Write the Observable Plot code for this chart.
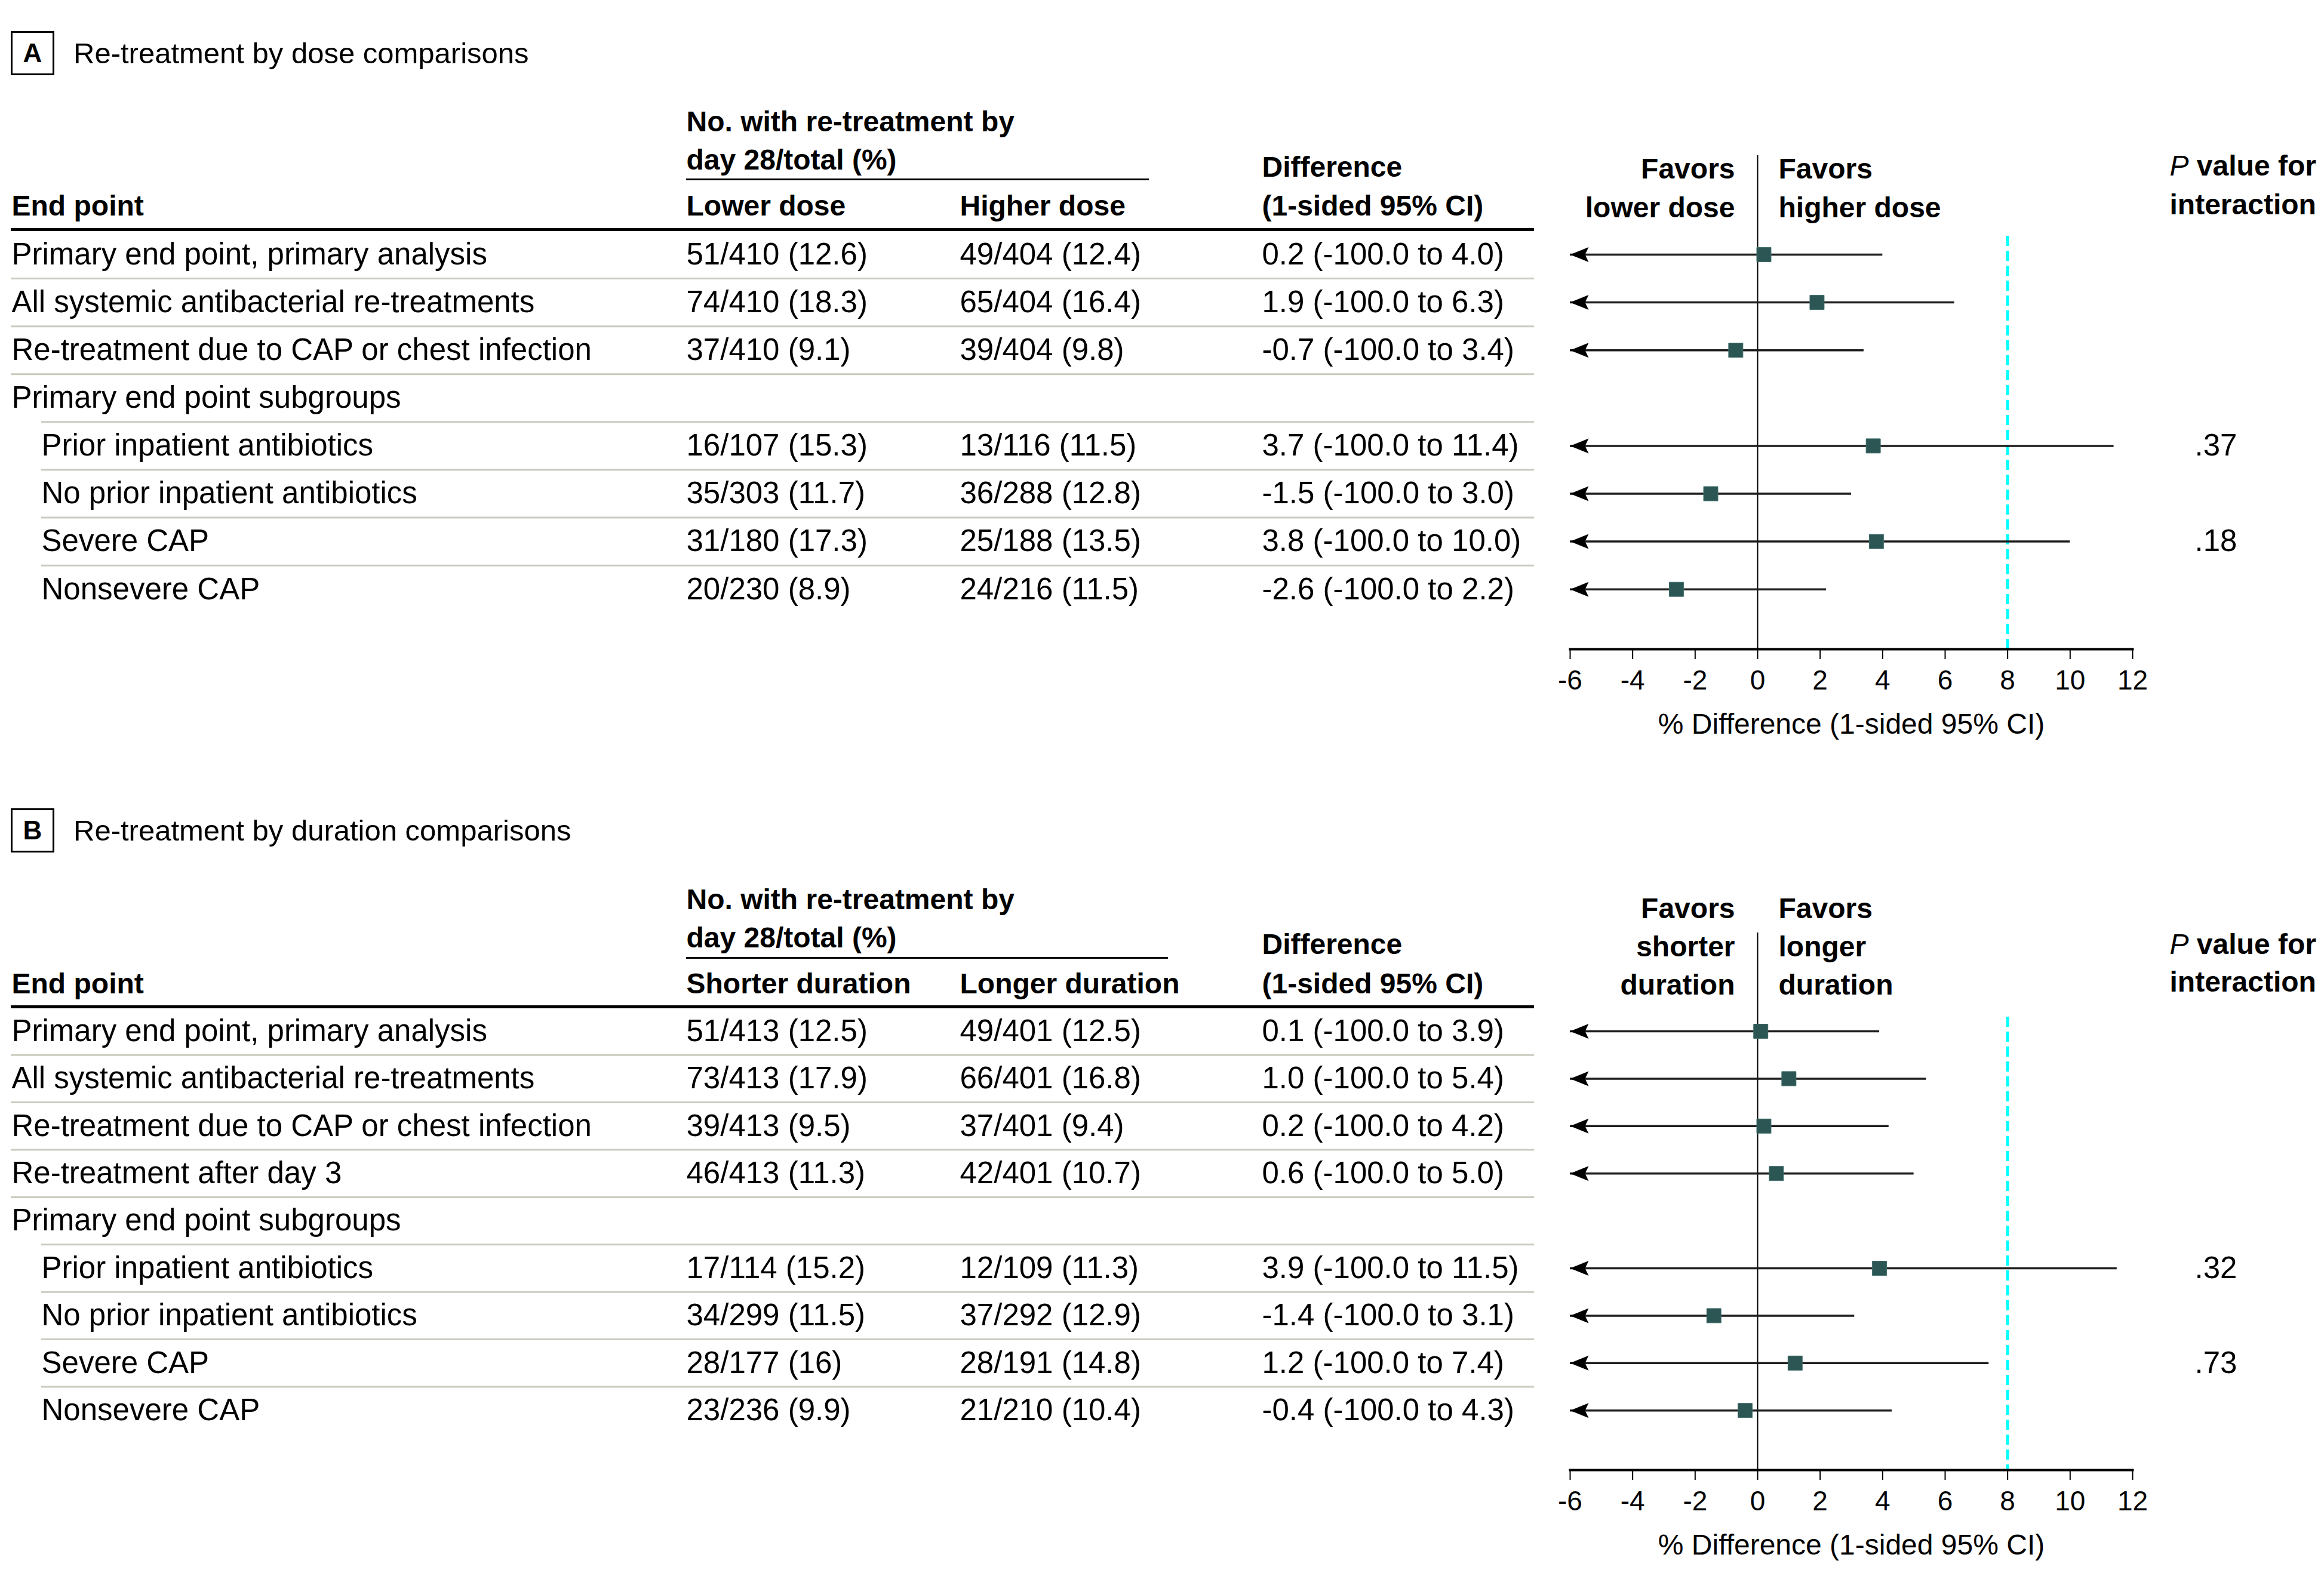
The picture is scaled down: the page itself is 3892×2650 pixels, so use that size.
<!DOCTYPE html>
<html><head><meta charset="utf-8">
<script src="https://cdn.jsdelivr.net/npm/d3@7"></script>
<script src="https://cdn.jsdelivr.net/npm/@observablehq/plot@0.6"></script>
<style>
html,body{margin:0;padding:0;background:#fff;overflow:hidden}
#root{position:relative;width:3892px;height:2650px;font-family:"Liberation Sans",Arial,sans-serif;color:#000}
.layer{position:absolute;left:0}
.box{position:absolute;left:18px;width:73px;height:74px;border:3px solid #000;box-sizing:border-box;font-weight:bold;font-size:44px;display:flex;align-items:center;justify-content:center}
.ttl{position:absolute;left:123px;font-size:49px;line-height:60px;white-space:nowrap}
</style></head><body><div id="root"></div>
<script>
// ---------------- DATA ----------------
// Panel A: dose comparisons
const titleA = "Re-treatment by dose comparisons";
const endpointsA = ["Primary end point, primary analysis","All systemic antibacterial re-treatments","Re-treatment due to CAP or chest infection","Primary end point subgroups","Prior inpatient antibiotics","No prior inpatient antibiotics","Severe CAP","Nonsevere CAP"];
const subgroupA = [false,false,false,false,true,true,true,true];
const lowerDoseA = ["51/410 (12.6)","74/410 (18.3)","37/410 (9.1)",null,"16/107 (15.3)","35/303 (11.7)","31/180 (17.3)","20/230 (8.9)"];
const higherDoseA = ["49/404 (12.4)","65/404 (16.4)","39/404 (9.8)",null,"13/116 (11.5)","36/288 (12.8)","25/188 (13.5)","24/216 (11.5)"];
const diffA = [0.2,1.9,-0.7,null,3.7,-1.5,3.8,-2.6];
const ciLowA = [-100,-100,-100,null,-100,-100,-100,-100];
const ciHighA = [4.0,6.3,3.4,null,11.4,3.0,10.0,2.2];
const pInterA = [null,null,null,null,".37",null,".18",null];
const groupHeadA = ["Lower dose","Higher dose"];
const favorsA = ["Favors\nlower dose","Favors\nhigher dose"];

// Panel B: duration comparisons
const titleB = "Re-treatment by duration comparisons";
const endpointsB = ["Primary end point, primary analysis","All systemic antibacterial re-treatments","Re-treatment due to CAP or chest infection","Re-treatment after day 3","Primary end point subgroups","Prior inpatient antibiotics","No prior inpatient antibiotics","Severe CAP","Nonsevere CAP"];
const subgroupB = [false,false,false,false,false,true,true,true,true];
const shorterB = ["51/413 (12.5)","73/413 (17.9)","39/413 (9.5)","46/413 (11.3)",null,"17/114 (15.2)","34/299 (11.5)","28/177 (16)","23/236 (9.9)"];
const longerB = ["49/401 (12.5)","66/401 (16.8)","37/401 (9.4)","42/401 (10.7)",null,"12/109 (11.3)","37/292 (12.9)","28/191 (14.8)","21/210 (10.4)"];
const diffB = [0.1,1.0,0.2,0.6,null,3.9,-1.4,1.2,-0.4];
const ciLowB = [-100,-100,-100,-100,null,-100,-100,-100,-100];
const ciHighB = [3.9,5.4,4.2,5.0,null,11.5,3.1,7.4,4.3];
const pInterB = [null,null,null,null,null,".32",null,".73",null];
const groupHeadB = ["Shorter duration","Longer duration"];
const favorsB = ["Favors\nshorter\nduration","Favors\nlonger\nduration"];

// shared labels
const xTicks = [-6,-4,-2,0,2,4,6,8,10,12];
const xDomain = [-6, 12];
const marginLine = 8; // noninferiority margin
const axisTitle = "% Difference (1-sided 95% CI)";

// ---------------- LAYOUT ----------------
const W = 3892;
const FONT = '"Liberation Sans", Arial, sans-serif';
const FS = 51;
const FSB = 48;
const COL = {label: 19, indent: 69, left: 1149, right: 1607, diff: 2113, rule0: 18, rule1: 2569, phdr: 3633, pval: 3675};
const FX0 = 2629, FX1 = 3571;
const SEP = "#c9ccbf";
const MARK = "#2b5654";

const arrowHead = {
  draw(ctx) {
    ctx.moveTo(0, 0);
    ctx.lineTo(31, -12.5);
    ctx.lineTo(25, 0);
    ctx.lineTo(31, 12.5);
    ctx.closePath();
  }
};

function buildRows(labels, sub, left, right, diff, lo, hi, p) {
  return labels.map((label, i) => ({i, label, indent: sub[i], left: left[i], right: right[i], diff: diff[i], lo: lo[i], hi: hi[i], p: p[i],
    diffText: diff[i] == null ? null : `${diff[i].toFixed(1)} (${lo[i].toFixed(1)} to ${hi[i].toFixed(1)})`}));
}

function hdr(text, dx, dy, extra = {}) {
  return Plot.text([text], {text: d => d, frameAnchor: "top-left", dx, dy, textAnchor: "start", lineAnchor: "middle", fontSize: FSB, fontWeight: "bold", fill: "#000", ...extra});
}

function drawPanel(root, cfg) {
  const {top, H, rows, y0, step, ruleDy, ulDy, ulRight, heads, favors, L} = cfg;
  const n = rows.length;
  const yScale = {type: "point", domain: d3.range(n), range: [y0, y0 + (n - 1) * step], padding: 0, round: false, axis: null};
  const style = {fontFamily: FONT, fontSize: FS + "px", background: "transparent", color: "#000", overflow: "visible"};

  const table = Plot.plot({
    width: W, height: H, margin: 0,
    x: {type: "identity", axis: null},
    y: yScale,
    style,
    marks: [
      Plot.ruleY([0], {y: d => d, dy: ruleDy, x1: () => COL.rule0, x2: () => COL.rule1, stroke: "#000", strokeWidth: 5}),
      Plot.ruleY([0], {y: d => d, dy: ulDy, x1: () => COL.left, x2: () => ulRight, stroke: "#000", strokeWidth: 3}),
      Plot.ruleY(rows.slice(0, -1), {y: "i", dy: step / 2, x1: d => rows[d.i + 1].indent ? COL.indent : COL.rule0, x2: () => COL.rule1, stroke: SEP, strokeWidth: 3}),
      hdr("No. with re-treatment by", COL.left, L.no1),
      hdr("day 28/total (%)", COL.left, L.no2),
      hdr("End point", COL.label, L.col),
      hdr(heads[0], COL.left, L.col),
      hdr(heads[1], COL.right, L.col),
      hdr("Difference", COL.diff, L.d1),
      hdr("(1-sided 95% CI)", COL.diff, L.d2),
      hdr("P value for", COL.phdr, L.p1),
      hdr("interaction", COL.phdr, L.p2),
      Plot.text(rows, {x: d => d.indent ? COL.indent : COL.label, y: "i", text: "label", textAnchor: "start", fontSize: FS, fill: "#000"}),
      Plot.text(rows.filter(d => d.left), {x: () => COL.left, y: "i", text: "left", textAnchor: "start", fontSize: FS, fill: "#000"}),
      Plot.text(rows.filter(d => d.right), {x: () => COL.right, y: "i", text: "right", textAnchor: "start", fontSize: FS, fill: "#000"}),
      Plot.text(rows.filter(d => d.diffText), {x: () => COL.diff, y: "i", text: "diffText", textAnchor: "start", fontSize: FS, fill: "#000"}),
      Plot.text(rows.filter(d => d.p), {x: () => COL.pval, y: "i", text: "p", textAnchor: "start", fontSize: FS, fill: "#000"})
    ]
  });

  const est = rows.filter(d => d.diff != null);
  const forest = Plot.plot({
    width: W, height: H, marginTop: 0, marginBottom: H - L.axis, marginLeft: FX0, marginRight: W - FX1,
    x: {domain: xDomain, axis: null},
    y: yScale,
    style: {...style, fontSize: "46px"},
    marks: [
      Plot.ruleX([0], {insetTop: L.zero, stroke: "#000", strokeWidth: 2}),
      Plot.ruleX([marginLine], {insetTop: L.cyan, stroke: "#00ffff", strokeWidth: 5, strokeDasharray: "17,8"}),
      Plot.frame({anchor: "bottom", stroke: "#000", strokeWidth: 4}),
      Plot.axisX({ticks: xTicks, tickSize: 17, tickPadding: 18, tickFormat: d => String(d), label: null, strokeWidth: 2, fill: "#000", stroke: "#000"}),
      Plot.text([axisTitle], {text: d => d, frameAnchor: "bottom", dy: L.title, lineAnchor: "middle", fontSize: 48, fill: "#000"}),
      Plot.ruleY(est, {y: "i", x1: d => Math.max(d.lo, xDomain[0]), x2: "hi", stroke: "#1e1e1e", strokeWidth: 3.5}),
      Plot.dot(est, {x: d => Math.max(d.lo, xDomain[0]), y: "i", symbol: arrowHead, r: 1, fill: "#000"}),
      Plot.dot(est, {x: "diff", y: "i", symbol: "square", r: 13.5, fill: MARK, stroke: "#3f6d6a", strokeWidth: 1}),
      Plot.text([favors[0]], {text: d => d, x: () => 0, frameAnchor: "top", dx: -38, dy: L.fav, textAnchor: "end", lineAnchor: "middle", lineHeight: 1.34, fontSize: FSB, fontWeight: "bold", fill: "#000"}),
      Plot.text([favors[1]], {text: d => d, x: () => 0, frameAnchor: "top", dx: 35, dy: L.fav, textAnchor: "start", lineAnchor: "middle", lineHeight: 1.34, fontSize: FSB, fontWeight: "bold", fill: "#000"})
    ]
  });

  for (const svg of [table, forest]) {
    const wrap = document.createElement("div");
    wrap.className = "layer";
    wrap.style.top = top + "px";
    wrap.appendChild(svg);
    root.appendChild(wrap);
  }
  // italic P in "P value for"
  d3.select(table).selectAll("text").filter(function() { return this.textContent === "P value for"; })
    .each(function() {
      const t = d3.select(this);
      t.text(null);
      t.append("tspan").attr("font-style", "italic").attr("font-weight", "normal").text("P");
      t.append("tspan").text(" value for");
    });
}

function addTitle(root, letter, text, boxTop) {
  const b = document.createElement("div");
  b.className = "box"; b.style.top = boxTop + "px"; b.textContent = letter;
  const t = document.createElement("div");
  t.className = "ttl"; t.style.top = (boxTop + 7) + "px"; t.textContent = text;
  root.appendChild(b); root.appendChild(t);
}

const root = document.getElementById("root");
addTitle(root, "A", titleA, 52);
addTitle(root, "B", titleB, 1354);

drawPanel(root, {
  top: 150, H: 1110,
  rows: buildRows(endpointsA, subgroupA, lowerDoseA, higherDoseA, diffA, ciLowA, ciHighA, pInterA),
  y0: 276, step: 80.1, ruleDy: -42, ulDy: -126, ulRight: 1924,
  heads: groupHeadA, favors: favorsA,
  L: {no1: 54, no2: 118, col: 195, d1: 130, d2: 195, p1: 128, p2: 193, fav: 160.5, zero: 110, cyan: 245, axis: 937, title: 126}
});
drawPanel(root, {
  top: 1455, H: 1190,
  rows: buildRows(endpointsB, subgroupB, shorterB, longerB, diffB, ciLowB, ciHighB, pInterB),
  y0: 272, step: 79.4, ruleDy: -41, ulDy: -123, ulRight: 1956,
  heads: groupHeadB, favors: favorsB,
  L: {no1: 52, no2: 116, col: 193, d1: 127, d2: 193, p1: 127, p2: 190, fav: 126, zero: 107, cyan: 248, axis: 1007, title: 126}
});
</script>
</body></html>
